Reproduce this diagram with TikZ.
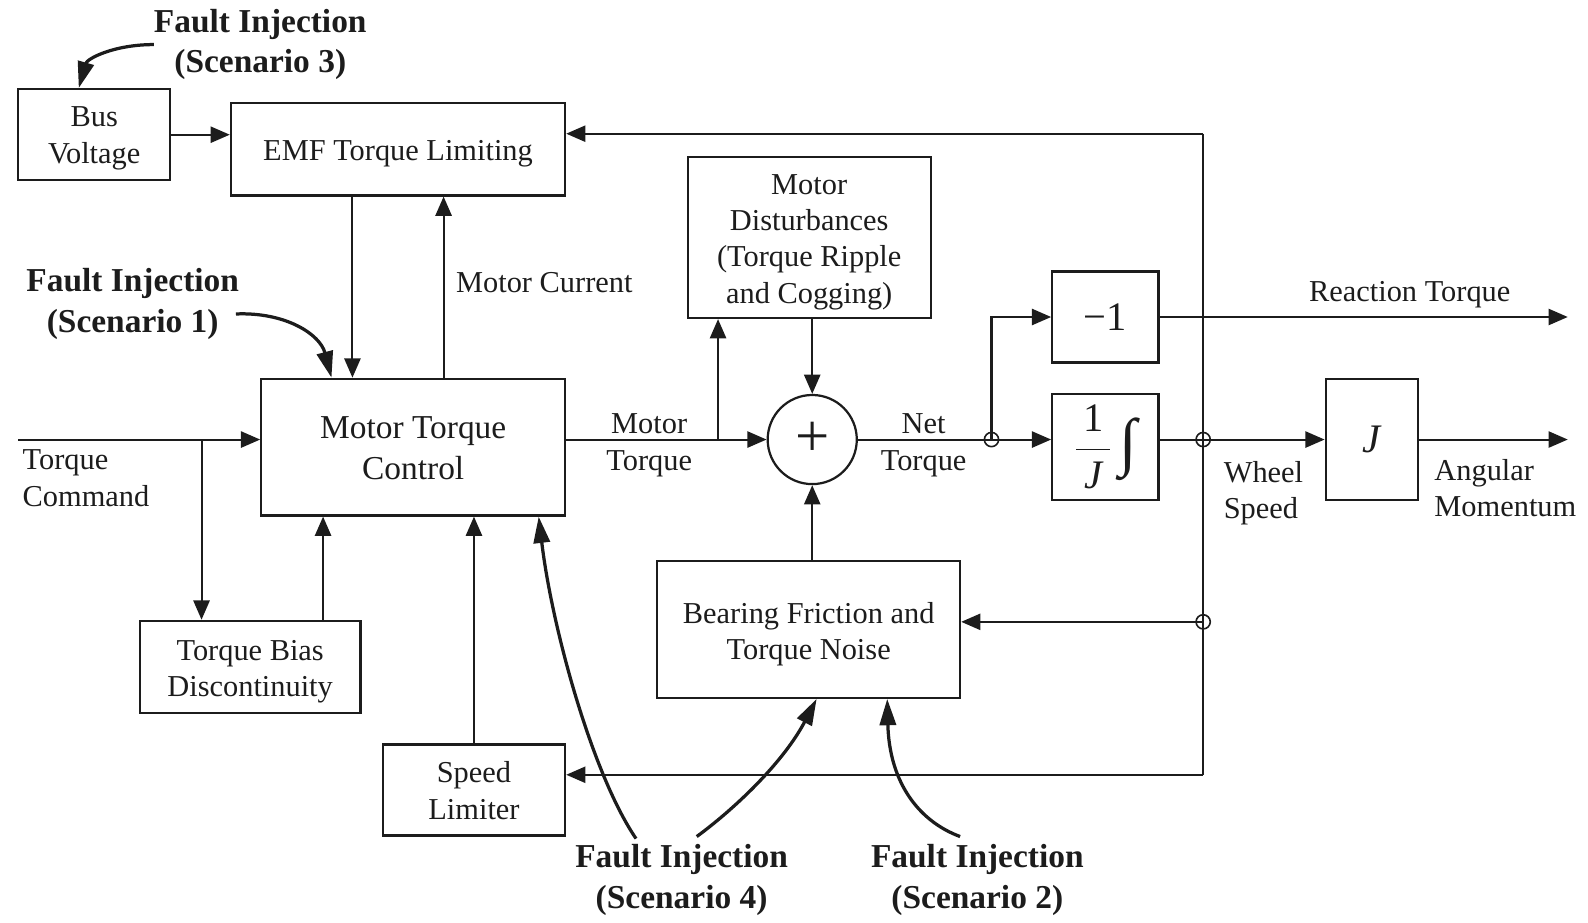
\documentclass[tikz,border=0pt]{standalone}
\usepackage{fontspec}
\usepackage{graphicx}
\setmainfont{Liberation Serif}
\usetikzlibrary{arrows.meta,calc}
\definecolor{ink}{RGB}{28,28,28}
\newcommand\fnorm{\fontsize{15}{18}\selectfont}
\newcommand\fbig{\fontsize{16.5}{20}\selectfont}
\newcommand\ffault{\fontsize{16.5}{20}\selectfont\bfseries}
\newcommand\fmath{\fontsize{20}{24}\selectfont}
\begin{document}
\begin{tikzpicture}[x=0.5pt,y=-0.5pt, color=ink, text=ink,
  box/.style={draw, line width=1.1pt, inner sep=0pt},
  btxt/.style={inner sep=0pt, align=center, font=\fnorm},
  lbl/.style={inner sep=0pt, align=center, font=\fnorm},
  lbll/.style={inner sep=0pt, align=left, font=\fnorm},
  fault/.style={inner sep=0pt, align=center, font=\ffault},
  conn/.style={line width=1pt, -{Triangle[length=9.5pt,width=8pt]}},
  wire/.style={line width=1pt},
  farr/.style={line width=1.6pt, -{Triangle[length=13pt,width=8pt]}},
  jct/.style={draw, circle, line width=0.8pt, minimum size=7pt, inner sep=0pt}
]
\useasboundingbox (0,0) rectangle (1568,911);

% blocks
\node[box, minimum width=75pt, minimum height=45pt] (bus) at (93,133) {};
\node[box, minimum width=165pt, minimum height=45.5pt] (emf) at (393,147.5) {};
\node[box, minimum width=150pt, minimum height=67.5pt] (mtc) at (408,441.5) {};
\node[box, minimum width=109pt, minimum height=45.5pt] (tbd) at (247,658.5) {};
\node[box, minimum width=90pt, minimum height=45pt] (spd) at (468,780) {};
\node[box, minimum width=120pt, minimum height=79.5pt] (md) at (799,234.5) {};
\node[box, minimum width=149.5pt, minimum height=67.5pt] (bf) at (798.5,621.5) {};
\node[box, font=\fmath, minimum width=52.5pt, minimum height=45pt] (neg) at (1091.5,313) {−1};
\node[box, font=\fmath, minimum width=52.5pt, minimum height=52.5pt] (integ) at (1091.5,441.5)
  {$\displaystyle\frac{\mbox{\,1\,}}{\mbox{\itshape J}}\,\vcenter{\hbox{\resizebox*{!}{31pt}{∫}}}$};
\node[box, font=\fmath, minimum width=45.5pt, minimum height=60pt] (jbox) at (1354.5,434) {\itshape J};
\node[draw, circle, line width=1.1pt, minimum size=44pt, inner sep=0pt, font=\fontsize{30}{30}\selectfont] (sum) at (802,434) {+};

% block texts
\node[btxt] (bust) at ($(bus.center)+(0,3.5)$) {Bus\\Voltage};
\node[btxt] (emft) at ($(emf.center)+(0,4)$) {EMF Torque Limiting};
\node[btxt, font=\fbig] (mtct) at ($(mtc.center)+(0,1)$) {Motor Torque\\Control};
\node[btxt] (tbdt) at ($(tbd.center)+(0,4.5)$) {Torque Bias\\Discontinuity};
\node[btxt] (spdt) at ($(spd.center)+(0,0.5)$) {Speed\\Limiter};
\node[btxt] (mdt) at ($(md.center)+(0,4.5)$) {Motor\\Disturbances\\(Torque Ripple\\and Cogging)};
\node[btxt] (bft) at ($(bf.center)+(0,4.5)$) {Bearing Friction and\\Torque Noise};

% helper coordinates
\coordinate (fbT) at (1188,132);
\coordinate (fbB) at (1188,765);
\coordinate (xa) at (348,0);
\coordinate (xb) at (438,0);
\coordinate (tcin) at (18,434);
\coordinate (xc) at (199,0);
\coordinate (xd) at (319,0);
\coordinate (xe) at (709,0);
\coordinate (j1) at (979,434);
\coordinate (j2) at (1188,434);
\coordinate (j3) at (1188,614);
\coordinate (out1) at (1548,313);
\coordinate (out2) at (1548,434);

% connectors
\draw[conn] (bus.east) -- (bus.east -| emf.west);
\draw[conn] (fbT) -- (fbT -| emf.east);
\draw[wire] (fbT) -- (fbB);
\draw[conn] (fbB) -- (fbB -| spd.east);
\draw[conn] (emf.south -| xa) -- (mtc.north -| xa);
\draw[conn] (mtc.north -| xb) -- (emf.south -| xb);
\draw[conn] (tcin) -- (tcin -| mtc.west);
\draw[conn] (tcin -| xc) -- (tbd.north -| xc);
\draw[conn] (tbd.north -| xd) -- (mtc.south -| xd);
\draw[conn] (spd.north) -- (spd.north |- mtc.south);
\draw[conn] (sum.west -| mtc.east) -- (sum.west);
\draw[conn] (sum.west -| xe) -- (md.south -| xe);
\draw[conn] (md.south -| sum.north) -- (sum.north);
\draw[conn] (bf.north -| sum.south) -- (sum.south);
\draw[conn] (sum.east) -- (j1 -| integ.west);
\draw[conn] (j1) |- (neg.west);
\draw[conn] (neg.east) -- (out1);
\draw[conn] (j2 -| integ.east) -- (jbox.west);
\draw[conn] (jbox.east) -- (out2);
\draw[conn] (j3) -- (j3 -| bf.east);
\node[jct] (c1) at (j1) {};
\node[jct] (c2) at (j2) {};
\node[jct] (c3) at (j3) {};

% labels
\node[lbll, anchor=west] (mcl) at (450,279) {Motor Current};
\node[lbl] (mtl) at (641,439.5) {Motor\\Torque};
\node[lbl] (ntl) at (912,439.5) {Net\\Torque};
\node[lbll, anchor=west] (tcl) at (22,472) {Torque\\Command};
\node[lbl] (rtl) at (1392,291) {Reaction Torque};
\node[lbll, anchor=west] (wsl) at (1208,487) {Wheel\\Speed};
\node[lbll, anchor=west] (aml) at (1416,482) {Angular\\Momentum};

% fault injections
\node[fault] (f3) at (257,44) {Fault Injection\\(Scenario 3)};
\node[fault] (f1) at (131,300) {Fault Injection\\(Scenario 1)};
\node[fault] (f4) at (673,869) {Fault Injection\\(Scenario 4)};
\node[fault] (f2) at (965,869) {Fault Injection\\(Scenario 2)};
\coordinate (s3) at (152,44);
\coordinate (s1) at (233,310);
\coordinate (s4a) at (628,828);
\coordinate (s4b) at (688,826);
\coordinate (s2) at (948,826);
\draw[farr] (s3) .. controls (112,44) and (86,58) .. ($(bus.north west)!0.4!(bus.north east)$);
\draw[farr] (s1) .. controls (282,308) and (316,330) .. ($(mtc.north west)!0.233!(mtc.north east)$);
\draw[farr] (s4a) .. controls (585,765) and (545,620) .. ($(mtc.south west)!0.91!(mtc.south east)$);
\draw[farr] (s4b) .. controls (730,795) and (775,750) .. ($(bf.south west)!0.526!(bf.south east)$);
\draw[farr] (s2) .. controls (905,810) and (878,770) .. ($(bf.south west)!0.7575!(bf.south east)$);
\end{tikzpicture}
\end{document}
